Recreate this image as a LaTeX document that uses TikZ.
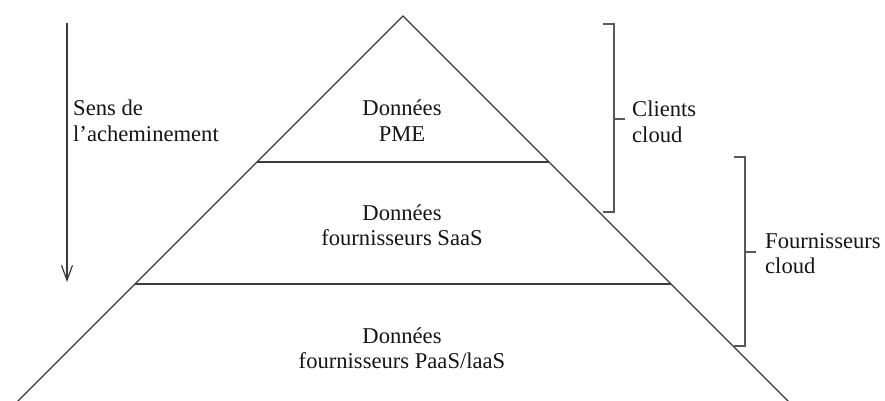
\documentclass[tikz,border=0pt]{standalone}
\usepackage{fontspec}
\setmainfont{Liberation Serif}
\usetikzlibrary{arrows.meta}

\definecolor{inkline}{HTML}{3A3A3A}
\definecolor{inktext}{HTML}{151515}

\tikzset{
  edge/.style={draw=inkline, line width=1.2pt, line join=miter},
  brace/.style={draw=inkline!85, line width=1.3pt},
  label/.style={inner sep=0pt, text=inktext, font=\fontsize{22.6}{25}\selectfont},
  % anchor=base sits on the baseline of the last line
  layerlabel/.style={label, align=center, anchor=base},
  sidelabel/.style={label, align=left, anchor=base west},
}

\begin{document}
\begin{tikzpicture}[x=1pt, y=-1pt]
  \useasboundingbox (0,0) rectangle (885,401);
  \clip (0,0) rectangle (885,401);

  % pyramid outline, running past the bottom edge
  \coordinate (apex) at (403,16);
  \coordinate (baseL) at (8,411);
  \coordinate (baseR) at (798,411);
  \draw[edge] (baseL) -- (apex) -- (baseR);

  % layer separators
  \coordinate (s1L) at (257,162);
  \coordinate (s1R) at (549,162);
  \coordinate (s2L) at (135,284);
  \coordinate (s2R) at (671,284);
  \draw[edge] (s1L) -- (s1R);
  \draw[edge] (s2L) -- (s2R);

  % layer labels
  \node[layerlabel] (pme)  at (402,141) {Données\\PME};
  \node[layerlabel] (saas) at (402,245) {Données\\fournisseurs SaaS};
  \node[layerlabel] (paas) at (402,368) {Données\\fournisseurs PaaS/laaS};

  % routing direction
  \coordinate (flowTop) at (67,23);
  \coordinate (flowEnd) at (67,282);
  \draw[edge, -{Straight Barb[length=15pt, width=11pt, line width=1.2pt]}] (flowTop) -- (flowEnd);
  \node[sidelabel] (flow) at (73,141) {Sens de\\l’acheminement};

  % bracket: cloud clients
  \coordinate (c1a) at (603,24);
  \coordinate (c1b) at (614,24);
  \coordinate (c1c) at (614,212);
  \coordinate (c1d) at (603,212);
  \coordinate (c1m) at (614,119);
  \coordinate (c1t) at (625,119);
  \draw[brace] (c1a) -- (c1b) -- (c1c) -- (c1d);
  \draw[brace] (c1m) -- (c1t);
  \node[sidelabel] (clients) at (632,142) {Clients\\cloud};

  % bracket: cloud providers
  \coordinate (c2a) at (734,157);
  \coordinate (c2b) at (745,157);
  \coordinate (c2c) at (745,346);
  \coordinate (c2d) at (734,346);
  \coordinate (c2m) at (745,252);
  \coordinate (c2t) at (756,252);
  \draw[brace] (c2a) -- (c2b) -- (c2c) -- (c2d);
  \draw[brace] (c2m) -- (c2t);
  \node[sidelabel] (providers) at (765,273) {Fournisseurs\\cloud};
\end{tikzpicture}
\end{document}
